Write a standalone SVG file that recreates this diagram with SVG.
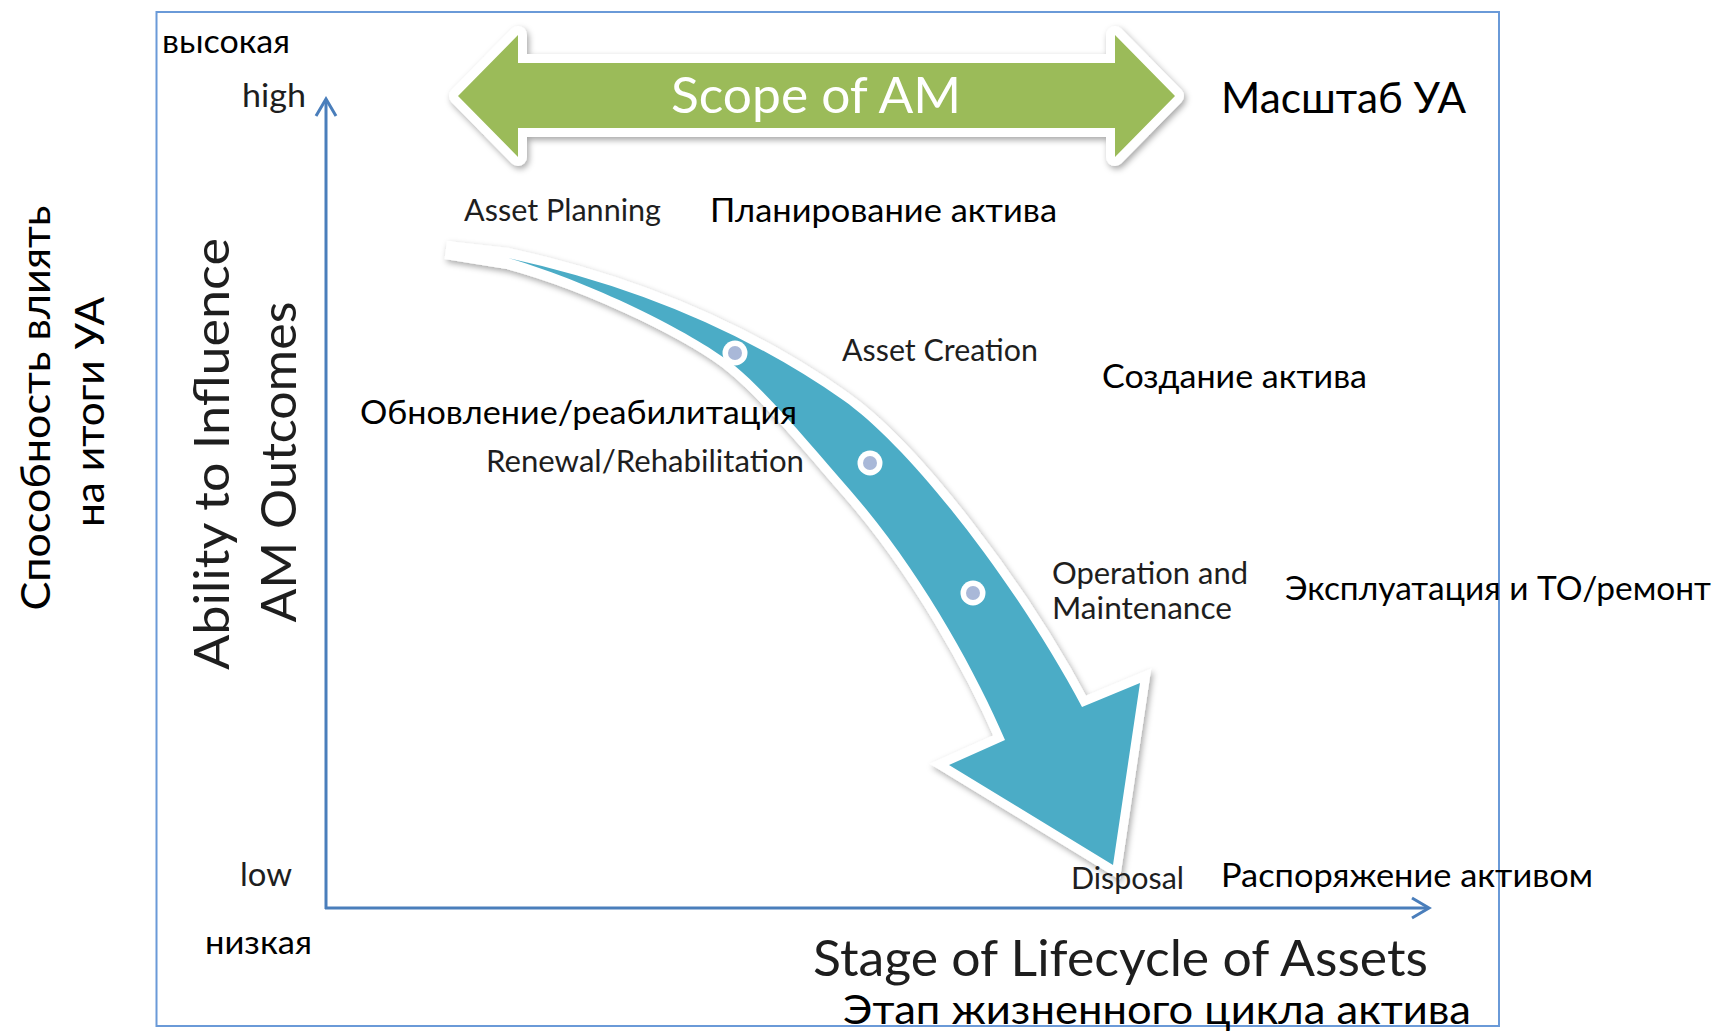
<svg xmlns="http://www.w3.org/2000/svg" width="1717" height="1033" viewBox="0 0 1717 1033">
<defs>
<filter id="sh" x="-10%" y="-10%" width="125%" height="130%">
<feDropShadow dx="2" dy="3" stdDeviation="3" flood-color="#000" flood-opacity="0.35"/>
</filter>
<style>
text{font-family:Lato,"Open Sans","Noto Sans",sans-serif;}
.ru{fill:#000;}
.en{fill:#1e1e1e;}
.s32{font-size:32px;}
.s30{font-size:30px;}
.s33{font-size:33px;}
.axis{stroke:#4A7EBB;stroke-width:3;fill:none;}
.dotring{fill:#fff;}
.dotin{fill:#A9B8D8;}
</style>
</defs>
<rect width="1717" height="1033" fill="#fff"/>
<rect id="frame" x="156.5" y="12" width="1342.5" height="1014" fill="none" stroke="#6A9AD8" stroke-width="2"/>

<g id="connectors">
<line class="axis" x1="326" y1="909" x2="326" y2="100"/>
<polyline class="axis" points="316,116 326,99 336,116"/>
<line class="axis" x1="325" y1="908" x2="1428" y2="908"/>
<polyline class="axis" points="1412,898 1429,908 1412,918"/>
</g>

<g id="scope-arrow">
<path d="M458,96 L518,35 L518,63 L1115,63 L1115,35 L1175,96 L1115,157 L1115,128 L518,128 L518,157 Z" fill="#9BBB59" stroke="#fff" stroke-width="18" stroke-linejoin="round" filter="url(#sh)"/>
<path d="M458,96 L518,35 L518,63 L1115,63 L1115,35 L1175,96 L1115,157 L1115,128 L518,128 L518,157 Z" fill="#9BBB59"/>
<text x="816" y="113" text-anchor="middle" font-size="50" fill="#fff" textLength="290" lengthAdjust="spacingAndGlyphs">Scope of AM</text>
</g>

<g id="lifecycle-arrow">
<path d="M446,250 L508,257 Q700,299 843,400 C914,450 1020,590 1082,707 L1140,683 L1113,865 L949,765 L1005,740 C975,670 920,570 850,490 C815,450 770,395 735,366 C700,337 600,285 508,260 Z" fill="#fff" stroke="#fff" stroke-width="18" stroke-linejoin="miter" stroke-miterlimit="4" filter="url(#sh)"/>
<path d="M508,258 Q700,300 843,400 C914,450 1020,590 1082,707 L1140,683 L1113,865 L949,765 L1005,740 C975,670 920,570 850,490 C815,450 770,395 735,366 C700,337 600,285 508,258 Z" fill="#4BACC6"/>
<circle class="dotring" cx="735" cy="353" r="12.5"/>
<circle class="dotin" cx="735" cy="353" r="7"/>
<circle class="dotring" cx="870" cy="463" r="12.5"/>
<circle class="dotin" cx="870" cy="463" r="7"/>
<circle class="dotring" cx="973" cy="593" r="12.5"/>
<circle class="dotin" cx="973" cy="593" r="7"/>
</g>

<g id="axis-y-labels">
<text class="ru s32" x="162" y="53" textLength="128" lengthAdjust="spacingAndGlyphs">высокая</text>
<text class="en s32" x="242" y="107" textLength="64" lengthAdjust="spacingAndGlyphs">high</text>
<text class="en s32" x="240" y="886" textLength="52" lengthAdjust="spacingAndGlyphs">low</text>
<text class="ru s32" x="205" y="954" textLength="107" lengthAdjust="spacingAndGlyphs">низкая</text>
</g>

<g id="y-title-ru">
<text class="ru" font-size="41" text-anchor="middle" transform="translate(50,408) rotate(-90)" textLength="405" lengthAdjust="spacingAndGlyphs">Способность  влиять</text>
<text class="ru" font-size="41" text-anchor="middle" transform="translate(104,412) rotate(-90)" textLength="230" lengthAdjust="spacingAndGlyphs">на итоги УА</text>
</g>

<g id="y-title-en">
<text class="en" font-size="49" text-anchor="middle" transform="translate(229,454) rotate(-90)" textLength="432" lengthAdjust="spacingAndGlyphs">Ability to Influence</text>
<text class="en" font-size="49" text-anchor="middle" transform="translate(296,462) rotate(-90)" textLength="321" lengthAdjust="spacingAndGlyphs">AM Outcomes</text>
</g>

<g id="scope-ru">
<text class="ru" font-size="42" x="1221" y="113" textLength="245" lengthAdjust="spacingAndGlyphs">Масштаб УА</text>
</g>

<g id="asset-planning">
<text class="en s30" x="464" y="221" textLength="197" lengthAdjust="spacingAndGlyphs">Asset Planning</text>
<text class="ru s33" x="710" y="222" textLength="347" lengthAdjust="spacingAndGlyphs">Планирование актива</text>
</g>

<g id="asset-creation">
<text class="en s30" x="842" y="361" textLength="196" lengthAdjust="spacingAndGlyphs">Asset Creation</text>
<text class="ru s33" x="1102" y="388" textLength="265" lengthAdjust="spacingAndGlyphs">Создание актива</text>
</g>

<g id="renewal">
<text class="ru s33" x="360" y="424" textLength="437" lengthAdjust="spacingAndGlyphs">Обновление/реабилитация</text>
<text class="en s30" x="486" y="472" textLength="318" lengthAdjust="spacingAndGlyphs">Renewal/Rehabilitation</text>
</g>

<g id="operation">
<text class="en s30" x="1052" y="584" textLength="196" lengthAdjust="spacingAndGlyphs">Operation and</text>
<text class="en s30" x="1052" y="619" textLength="180" lengthAdjust="spacingAndGlyphs">Maintenance</text>
<text class="ru s33" x="1285" y="600" textLength="426" lengthAdjust="spacingAndGlyphs">Эксплуатация и ТО/ремонт</text>
</g>

<g id="disposal">
<text class="en s30" x="1071" y="889" textLength="113" lengthAdjust="spacingAndGlyphs">Disposal</text>
<text class="ru s33" x="1221" y="887" textLength="372" lengthAdjust="spacingAndGlyphs">Распоряжение активом</text>
</g>

<g id="x-title">
<text class="en" font-size="50" x="813" y="976" textLength="615" lengthAdjust="spacingAndGlyphs">Stage of Lifecycle of Assets</text>
<text class="ru" font-size="41" x="843" y="1024" textLength="628" lengthAdjust="spacingAndGlyphs">Этап жизненного цикла актива</text>
</g>
</svg>
